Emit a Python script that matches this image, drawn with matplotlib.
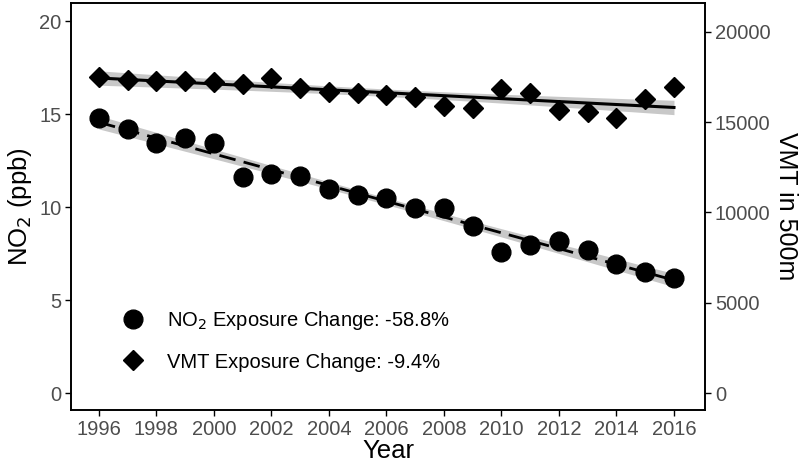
import numpy as np
from matplotlib import pyplot as plt
from matplotlib.lines import Line2D

years = list(range(1996, 2017))
no2 = [14.78, 14.19, 13.44, 13.70, 13.45, 11.60, 11.77, 11.67, 10.95, 10.65, 10.47,
       9.95, 9.93, 8.98, 7.58, 7.96, 8.17, 7.69, 6.94, 6.50, 6.18]
vmt = [17510, 17340, 17290, 17290, 17230, 17120, 17450, 16900, 16680, 16620, 16510,
       16400, 15920, 15790, 16840, 16620, 15680, 15570, 15240, 16290, 16950]

no2_label = 'NO$_2$ Exposure Change: -58.8%'
vmt_label = 'VMT Exposure Change: -9.4%'

plt.rcParams['font.family'] = ['Liberation Sans', 'DejaVu Sans']


def fit_band(x, y, t=2.093):
    x = np.asarray(x, float)
    y = np.asarray(y, float)
    b, a = np.polyfit(x, y, 1)
    xs = np.linspace(x.min(), x.max(), 100)
    yhat = a + b * xs
    resid = y - (a + b * x)
    s = np.sqrt(np.sum(resid ** 2) / (len(x) - 2))
    se = s * np.sqrt(1 / len(x) + (xs - x.mean()) ** 2 / np.sum((x - x.mean()) ** 2))
    return xs, yhat, yhat - t * se, yhat + t * se


fig = plt.figure(figsize=(8, 4.69), dpi=100)
ax = fig.add_axes([0.0888, 0.1258, 0.7925, 0.8678])
ax2 = ax.twinx()

xs, yh, lo, hi = fit_band(years, no2)
ax.fill_between(xs, lo, hi, color='#c8c8c8', lw=0, zorder=1)
ax.plot(xs, yh, color='black', lw=2, ls=(0, (6, 3)), zorder=2)
ax.plot(years, no2, 'o', color='black', ms=13.5, zorder=3)

xs, yh, lo, hi = fit_band(years, vmt)
ax2.fill_between(xs, lo, hi, color='#c8c8c8', lw=0, zorder=1)
ax2.plot(xs, yh, color='black', lw=2.2, zorder=2)
ax2.plot(years, vmt, 'D', color='black', ms=10, zorder=3)

ax.set_xlim(1995.03, 2017.08)
ax.set_ylim(-0.91, 20.97)
ax2.set_ylim(-940, 21600)
ax.set_xticks(range(1996, 2017, 2))
ax.set_yticks([0, 5, 10, 15, 20])
ax2.set_yticks([0, 5000, 10000, 15000, 20000])

for a in (ax, ax2):
    a.tick_params(labelsize=14.5, colors='#4d4d4d', length=4, width=1, pad=3)
    a.tick_params(axis='both', color='black')
    for sp in a.spines.values():
        sp.set_linewidth(1.2)
        sp.set_color('black')

ax.set_xlabel('Year', fontsize=18.5, labelpad=0)
ax.set_ylabel('NO$_2$ (ppb)', fontsize=18.5, labelpad=4)
ax2.set_ylabel('VMT in 500m', fontsize=18, rotation=270, labelpad=20)

handles = [Line2D([], [], marker='o', ls='', color='black', ms=13.5),
           Line2D([], [], marker='D', ls='', color='black', ms=10)]
ax.legend(handles, [no2_label, vmt_label], loc='lower left',
          bbox_to_anchor=(0.04, 0.05), frameon=False, fontsize=14.5,
          handletextpad=0.8, labelspacing=1.0, handlelength=1.8)

fig.savefig('out.png', dpi=100)
